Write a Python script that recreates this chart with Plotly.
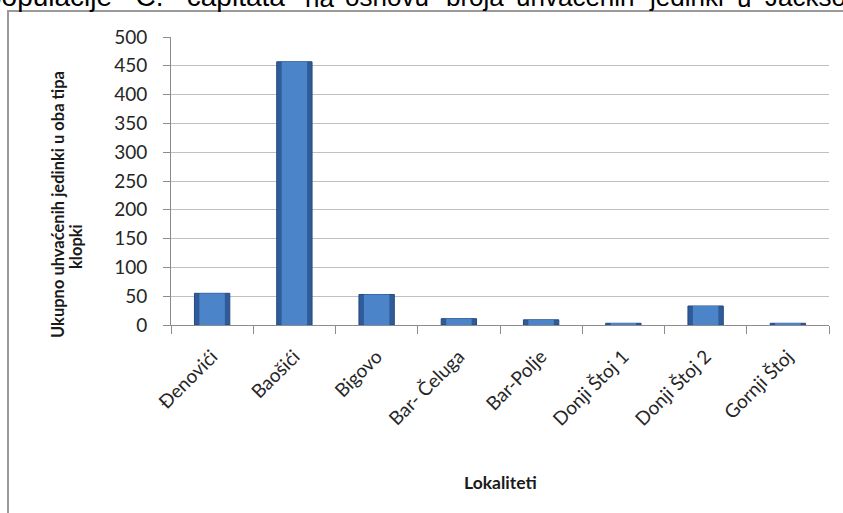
import plotly.graph_objects as go

categories = ["Đenovići", "Baošići", "Bigovo", "Bar- Čeluga", "Bar-Polje",
              "Donji Štoj 1", "Donji Štoj 2", "Gornji Štoj"]
values = [55, 457, 53, 11, 9, 3, 33, 3]
y_ticks = [0, 50, 100, 150, 200, 250, 300, 350, 400, 450, 500]

W, H = 843, 513
L, R, T, B = 171, 829, 37, 325

def px(x):
    return (x - L) / (R - L)

def py(y):
    return (B - y) / (B - T)

fig = go.Figure()
fig.add_trace(go.Bar(
    x=categories, y=values,
    marker=dict(color="#2f5c98", line=dict(color="#234a80", width=1)),
    width=0.43, hoverinfo="skip",
))
fig.add_trace(go.Bar(
    x=categories, y=values,
    marker=dict(color="#4c84ca", line=dict(width=0)),
    width=0.31,
))

fig.update_layout(
    width=W, height=H,
    margin=dict(l=L, r=W - R, t=T, b=H - B),
    paper_bgcolor="white", plot_bgcolor="white",
    showlegend=False, barmode="overlay",
    font=dict(family="Lato, Open Sans, sans-serif", color="#262626"),
)

fig.update_yaxes(
    range=[0, 500], tickvals=y_ticks,
    showgrid=True, gridcolor="#c0c0c0", gridwidth=1,
    showline=True, linecolor="#8c8c8c", linewidth=1,
    ticks="outside", ticklen=7, tickcolor="#8c8c8c",
    tickfont=dict(size=19, color="#262626"),
    ticklabelstandoff=12,
    zeroline=False,
)
fig.update_xaxes(
    showline=True, linecolor="#8c8c8c", linewidth=1,
    ticks="outside", ticklen=8, tickcolor="#8c8c8c",
    tickson="boundaries", tickangle=-45,
    tickfont=dict(size=19, color="#262626"),
    ticklabelstandoff=12, ticklabelshift=0,
    showgrid=False,
)

# outer chart frame
fig.add_shape(type="rect", xref="paper", yref="paper",
              x0=px(8), x1=px(860), y0=py(530), y1=py(11),
              line=dict(color="#9a9a9a", width=2), fillcolor="rgba(0,0,0,0)",
              layer="below")

# cut-off title text at top (justified line of a document, partly cut)
title_words = [
    ("populacije\u00a0\u00a0\u00a0C.\u00a0\u00a0\u00a0capitata\"", 297, "right", 28),
    ("na", 303, "left", 26),
    ("osnovu", 343, "left", 26),
    ("broja", 444, "left", 26),
    ("uhvaćenih", 514, "left", 26),
    ("jedinki", 647, "left", 26),
    ("u", 735, "left", 26),
    ("Jackson", 763, "left", 26),
]
for word, xpos, anchor, fsize in title_words:
    fig.add_annotation(
        xref="paper", yref="paper", x=px(xpos), y=py(14.5),
        xanchor=anchor, yanchor="bottom", showarrow=False,
        text=word,
        font=dict(family="Liberation Sans, Arial, sans-serif", size=fsize, color="#000000"),
    )

# y-axis title (two lines placed as in the reference)
fig.add_annotation(
    xref="paper", yref="paper", x=px(58), y=py(205),
    xanchor="center", yanchor="middle", showarrow=False, textangle=-90,
    text="<b>Ukupno uhvaćenih jedinki u oba tipa</b>",
    font=dict(family="Lato, Open Sans, sans-serif", size=16.5, color="#1a1a1a"),
)
fig.add_annotation(
    xref="paper", yref="paper", x=px(76), y=py(247),
    xanchor="center", yanchor="middle", showarrow=False, textangle=-90,
    text="<b>klopki</b>",
    font=dict(family="Lato, Open Sans, sans-serif", size=16.5, color="#1a1a1a"),
)

# x-axis title
fig.add_annotation(
    xref="paper", yref="paper", x=px(500), y=py(482),
    xanchor="center", yanchor="middle", showarrow=False,
    text="<b>Lokaliteti</b>",
    font=dict(family="Lato, Open Sans, sans-serif", size=17.5, color="#1a1a1a"),
)

fig.write_html("out.html")
